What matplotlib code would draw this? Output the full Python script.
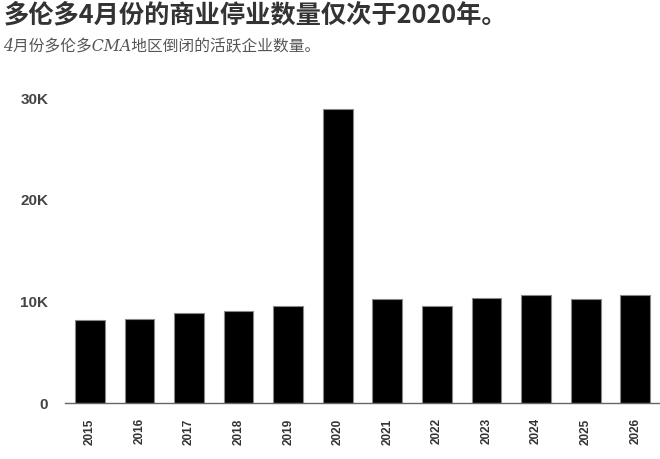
import matplotlib
matplotlib.use("Agg")
import matplotlib.pyplot as plt

plt.rcParams['font.family'] = ['Liberation Sans', 'Noto Sans CJK SC', 'DejaVu Sans']

# closures per year (April)
years = ["2015", "2016", "2017", "2018", "2019", "2020",
         "2021", "2022", "2023", "2024", "2025", "2026"]
closures = [8150, 8300, 8830, 9060, 9550, 28900,
            10200, 9550, 10300, 10670, 10200, 10670]

y_ticks = [0, 10000, 20000, 30000]
y_labels = ["0", "10K", "20K", "30K"]

title = "多伦多4月份的商业停业数量仅次于2020年。"
subtitle = "4月份多伦多CMA地区倒闭的活跃企业数量。"

fig = plt.figure(figsize=(6.6, 4.59), dpi=100)
ax = fig.add_axes([0.0985, 0.122, 0.9015, 0.664])

ax.bar(range(len(years)), closures, width=0.6, color="black",
       edgecolor="#888888", linewidth=0.8)

ax.set_xlim(-0.5, 11.5)
ax.set_ylim(0, 30000)
ax.set_yticks(y_ticks)
ax.set_yticklabels(y_labels, fontsize=11, fontweight="bold", color="#444444")
ax.set_xticks(range(len(years)))
ax.set_xticklabels(years, rotation=90, fontsize=8.5, fontweight="bold",
                   color="#333333")
ax.tick_params(axis="y", length=0, pad=12)
ax.tick_params(axis="x", length=0, pad=11)

for s in ["top", "right", "left"]:
    ax.spines[s].set_visible(False)
ax.spines["bottom"].set_color("#666666")
ax.spines["bottom"].set_linewidth(1)

fig.text(0.005, 0.966, title, fontsize=18.2, fontweight="bold", color="#333333",
         family=['Noto Sans CJK SC', 'DejaVu Sans'], va="center", ha="left")
fig.text(0.005, 0.897, subtitle, fontsize=11.3, style="italic", color="#555555",
         family=['DejaVu Serif', 'Noto Sans CJK SC'],
         va="center", ha="left")

fig.savefig("out.png", dpi=100)
